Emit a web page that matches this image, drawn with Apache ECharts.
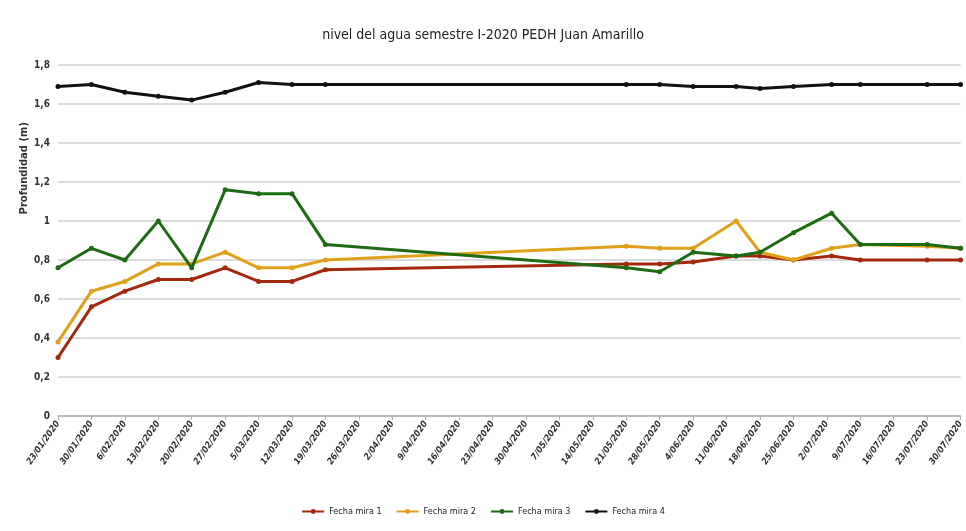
<!DOCTYPE html>
<html>
<head>
<meta charset="utf-8">
<script src="https://cdn.jsdelivr.net/npm/echarts@6/dist/echarts.min.js"></script>
<style>
  html, body { margin: 0; padding: 0; background: #fff; }
  #chart { width: 966px; height: 531px; }
</style>
</head>
<body>
<div id="chart"></div>
<script>
// Measurement dates (d/mm/yyyy)
const fechas = [
  '23/01/2020', '30/01/2020', '6/02/2020', '13/02/2020', '20/02/2020',
  '27/02/2020', '5/03/2020', '12/03/2020', '19/03/2020', '21/05/2020',
  '28/05/2020', '4/06/2020', '13/06/2020', '18/06/2020', '25/06/2020',
  '3/07/2020', '9/07/2020', '23/07/2020', '30/07/2020'
];

// Water depth (m) for each gauge
const mira1 = [0.30, 0.56, 0.64, 0.70, 0.70, 0.76, 0.69, 0.69, 0.75, 0.78,
               0.78, 0.79, 0.82, 0.82, 0.80, 0.82, 0.80, 0.80, 0.80];
const mira2 = [0.38, 0.64, 0.69, 0.78, 0.78, 0.84, 0.76, 0.76, 0.80, 0.87,
               0.86, 0.86, 1.00, 0.84, 0.80, 0.86, 0.88, 0.87, 0.86];
const mira3 = [0.76, 0.86, 0.80, 1.00, 0.76, 1.16, 1.14, 1.14, 0.88, 0.76,
               0.74, 0.84, 0.82, 0.84, 0.94, 1.04, 0.88, 0.88, 0.86];
const mira4 = [1.69, 1.70, 1.66, 1.64, 1.62, 1.66, 1.71, 1.70, 1.70, 1.70,
               1.70, 1.69, 1.69, 1.68, 1.69, 1.70, 1.70, 1.70, 1.70];

const seriesNames = ['Fecha mira 1', 'Fecha mira 2', 'Fecha mira 3', 'Fecha mira 4'];
const seriesColors = ['#a3290c', '#e0a01a', '#1f6a14', '#111111'];

// Weekly ticks from the first to the last date
const inicio = '23/01/2020';
const fin = '30/07/2020';
const pasoDias = 7;

const DAY = 86400000;
function parseFecha(s) {
  const [d, m, y] = s.split('/').map(Number);
  return Date.UTC(y, m - 1, d);
}
const t0 = parseFecha(inicio);
function dias(s) { return Math.round((parseFecha(s) - t0) / DAY); }
function etiqueta(v) {
  const dt = new Date(t0 + v * DAY);
  const d = dt.getUTCDate();
  const m = String(dt.getUTCMonth() + 1).padStart(2, '0');
  return d + '/' + m + '/' + dt.getUTCFullYear();
}

const FONT = "'Liberation Sans Narrow', 'DejaVu Sans Condensed', 'Liberation Sans', sans-serif";

const valores = [mira1, mira2, mira3, mira4];
const series = valores.map((vals, k) => ({
  name: seriesNames[k],
  type: 'line',
  data: fechas.map((f, i) => [dias(f), vals[i]]),
  symbol: 'circle',
  symbolSize: 5,
  lineStyle: { width: 3, color: seriesColors[k] },
  itemStyle: { color: seriesColors[k] },
  z: 2 + k
}));

const chart = echarts.init(document.getElementById('chart'), null, { renderer: 'canvas' });
chart.setOption({
  animation: false,
  backgroundColor: '#ffffff',
  color: seriesColors,
  title: {
    text: 'nivel del agua semestre I-2020 PEDH Juan Amarillo',
    left: 'center',
    top: 23,
    textStyle: { fontFamily: FONT, fontSize: 14, fontWeight: 'normal', color: '#222' }
  },
  grid: { left: 58, right: 4, top: 65, bottom: 115 },
  xAxis: {
    type: 'value',
    min: 0,
    max: dias(fin),
    interval: pasoDias,
    splitLine: { show: false },
    axisLine: { lineStyle: { color: '#b0b0b0', width: 1.5 } },
    axisTick: { show: true, length: 4, lineStyle: { color: '#b0b0b0' } },
    axisLabel: {
      rotate: 55,
      formatter: etiqueta,
      fontFamily: FONT,
      fontSize: 9,
      fontWeight: 'bold',
      fontStyle: 'italic',
      color: '#333',
      margin: 6
    }
  },
  yAxis: {
    type: 'value',
    min: 0,
    max: 1.8,
    interval: 0.2,
    axisLine: { show: false },
    axisTick: { show: false },
    splitLine: { lineStyle: { color: '#d0d0d0', width: 1.5 } },
    axisLabel: {
      formatter: v => String(Math.round(v * 10) / 10).replace('.', ','),
      fontFamily: FONT,
      fontSize: 10,
      fontWeight: 'bold',
      color: '#333',
      margin: 8
    }
  },
  graphic: [{
    type: 'text',
    left: 19,
    top: 122,
    rotation: Math.PI / 2,
    style: {
      text: 'Profundidad (m)',
      fontFamily: "'DejaVu Sans', sans-serif",
      fontSize: 10,
      fontWeight: 'bold',
      fill: '#333'
    }
  }],
  legend: {
    bottom: 10,
    left: 'center',
    itemWidth: 22,
    itemHeight: 6,
    itemGap: 14,
    textStyle: { fontFamily: FONT, fontSize: 9, color: '#222' },
    data: seriesNames
  },
  series: series
});
</script>
</body>
</html>
